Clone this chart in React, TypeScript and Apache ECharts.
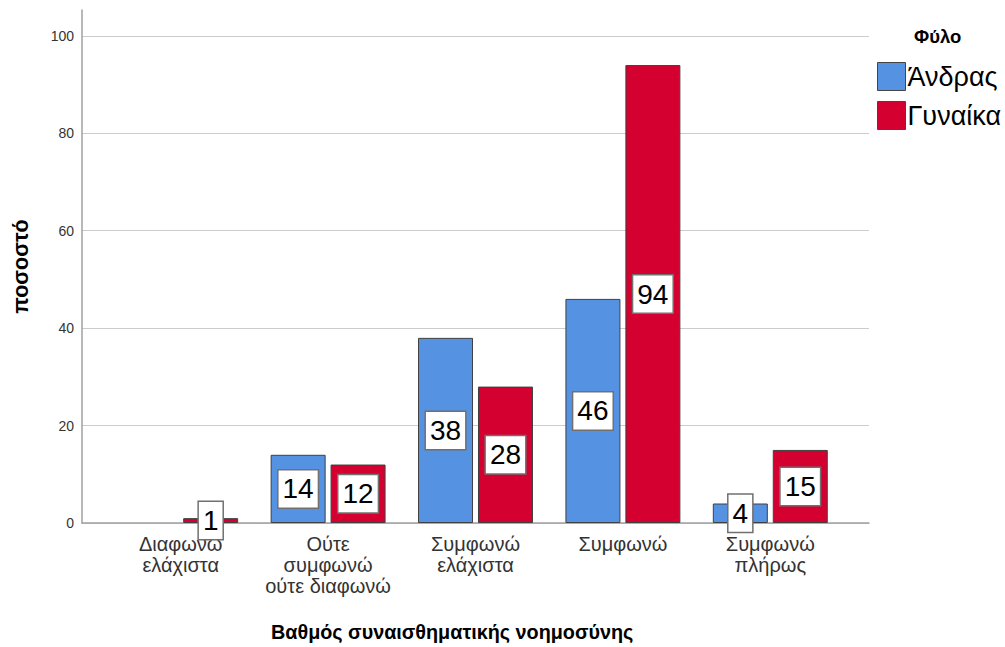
import React, { useEffect, useRef } from 'react';
import * as echarts from 'echarts';

const categories = ['Διαφωνώ\nελάχιστα', 'Ούτε\nσυμφωνώ\nούτε διαφωνώ', 'Συμφωνώ\nελάχιστα', 'Συμφωνώ', 'Συμφωνώ\nπλήρως'];
const seriesNames = ['Άνδρας', 'Γυναίκα'];
const andras = [0, 14, 38, 46, 4];
const gynaika = [1, 12, 28, 94, 15];
const seriesColors = ['#5592e2', '#d4002f'];
const yMin = 0;
const yMax = 105.3;
const yInterval = 20;
const yTitle = 'ποσοστό';
const xTitle = 'Βαθμός συναισθηματικής νοημοσύνης';
const legendTitle = 'Φύλο';

const FONT = "Arial, 'Liberation Sans', sans-serif";

function toData(values: number[]) {
  return values.map((v) =>
    v === 0 ? { value: 0, label: { show: false }, itemStyle: { borderWidth: 0 } } : v
  );
}

export default function App() {
  const ref = useRef<HTMLDivElement>(null);
  useEffect(() => {
    if (!ref.current) return;
    const chart = echarts.init(ref.current, undefined, { renderer: 'svg' });
    const labelStyle = {
      show: true,
      position: 'inside',
      fontSize: 28,
      fontFamily: FONT,
      color: '#000',
      backgroundColor: '#fff',
      borderColor: '#707070',
      borderWidth: 1.5,
      padding: [6, 4, 3, 4],
    };
    const option: any = {
      animation: false,
      backgroundColor: '#fff',
      textStyle: { fontFamily: FONT },
      title: {
        text: legendTitle,
        left: 909,
        top: 22,
        textStyle: { fontSize: 18.5, fontWeight: 'bold', color: '#000', fontFamily: FONT },
      },
      legend: {
        data: seriesNames,
        orient: 'vertical',
        left: 872,
        top: 57,
        itemWidth: 28,
        itemHeight: 28,
        itemGap: 10,
        icon: 'rect',
        itemStyle: { borderColor: '#444', borderWidth: 1 },
        textStyle: { fontSize: 27, color: '#000', fontFamily: FONT, padding: [0, 0, 0, -3] },
      },
      grid: [
        { left: 82, right: 136, top: 10, bottom: 124 },
        { left: 107, right: 161, top: 10, bottom: 124 },
      ],
      xAxis: [
        {
          gridIndex: 0,
          type: 'value',
          min: 0,
          max: 1,
          axisLine: { show: true, lineStyle: { color: '#a0a0a0', width: 1.5 } },
          axisTick: { show: false },
          axisLabel: { show: false },
          splitLine: { show: false },
        },
        {
          gridIndex: 1,
          type: 'category',
          data: categories,
          axisLine: { show: false },
          axisTick: { show: false },
          axisLabel: {
            fontSize: 20,
            lineHeight: 21,
            color: '#333',
            margin: 10,
            interval: 0,
            fontFamily: FONT,
          },
        },
      ],
      yAxis: [
        {
          gridIndex: 0,
          type: 'value',
          min: yMin,
          max: yMax,
          interval: yInterval,
          name: yTitle,
          nameLocation: 'middle',
          nameGap: 50,
          nameTextStyle: { fontSize: 21.5, fontWeight: 'bold', color: '#000', fontFamily: FONT },
          axisLine: { show: true, lineStyle: { color: '#a0a0a0', width: 1.5 } },
          axisTick: { show: false },
          axisLabel: { fontSize: 14, color: '#333', margin: 8, showMaxLabel: false, fontFamily: FONT },
          splitLine: {
            show: true,
            lineStyle: {
              color: ['#cccccc', '#cccccc', '#cccccc', '#cccccc', '#cccccc', '#cccccc', 'rgba(0,0,0,0)'],
              width: 1.2,
            },
          },
        },
        {
          gridIndex: 1,
          type: 'value',
          min: yMin,
          max: yMax,
          show: false,
          splitLine: { show: false },
        },
      ],
      graphic: [
        {
          type: 'text',
          x: 271,
          y: 632,
          style: {
            text: xTitle,
            fontSize: 19.8,
            fontWeight: 'bold',
            fontFamily: FONT,
            fill: '#000',
            verticalAlign: 'middle',
            align: 'left',
          },
        },
      ],
      series: [
        {
          name: seriesNames[0],
          type: 'bar',
          xAxisIndex: 1,
          yAxisIndex: 1,
          data: toData(andras),
          barWidth: 55,
          barGap: '9%',
          itemStyle: { color: seriesColors[0], borderColor: '#404040', borderWidth: 1 },
          label: labelStyle,
        },
        {
          name: seriesNames[1],
          type: 'bar',
          xAxisIndex: 1,
          yAxisIndex: 1,
          data: toData(gynaika),
          barWidth: 55,
          barGap: '9%',
          itemStyle: { color: seriesColors[1], borderColor: '#404040', borderWidth: 1 },
          label: labelStyle,
        },
      ],
    };
    chart.setOption(option);
    return () => chart.dispose();
  }, []);
  return (
    <div
      ref={ref}
      style={{ position: 'fixed', left: 0, top: 0, width: 1005, height: 647 }}
    />
  );
}
